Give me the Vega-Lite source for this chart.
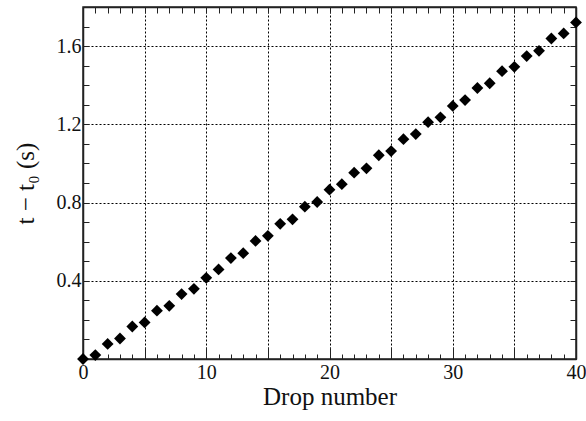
{
  "$schema": "https://vega.github.io/schema/vega-lite/v6.json",
  "width": 493,
  "height": 352,
  "autosize": "none",
  "padding": {"left": 83, "top": 7, "right": 10, "bottom": 62},
  "background": "white",
  "data": {
    "values": [
      {"drop": 0, "t": 0.0},
      {"drop": 1, "t": 0.020},
      {"drop": 2, "t": 0.077},
      {"drop": 3, "t": 0.105},
      {"drop": 4, "t": 0.166},
      {"drop": 5, "t": 0.187},
      {"drop": 6, "t": 0.247},
      {"drop": 7, "t": 0.272},
      {"drop": 8, "t": 0.332},
      {"drop": 9, "t": 0.359},
      {"drop": 10, "t": 0.415},
      {"drop": 11, "t": 0.458},
      {"drop": 12, "t": 0.516},
      {"drop": 13, "t": 0.541},
      {"drop": 14, "t": 0.604},
      {"drop": 15, "t": 0.630},
      {"drop": 16, "t": 0.691},
      {"drop": 17, "t": 0.714},
      {"drop": 18, "t": 0.779},
      {"drop": 19, "t": 0.803},
      {"drop": 20, "t": 0.866},
      {"drop": 21, "t": 0.894},
      {"drop": 22, "t": 0.953},
      {"drop": 23, "t": 0.975},
      {"drop": 24, "t": 1.042},
      {"drop": 25, "t": 1.063},
      {"drop": 26, "t": 1.124},
      {"drop": 27, "t": 1.150},
      {"drop": 28, "t": 1.211},
      {"drop": 29, "t": 1.236},
      {"drop": 30, "t": 1.294},
      {"drop": 31, "t": 1.324},
      {"drop": 32, "t": 1.386},
      {"drop": 33, "t": 1.410},
      {"drop": 34, "t": 1.472},
      {"drop": 35, "t": 1.494},
      {"drop": 36, "t": 1.549},
      {"drop": 37, "t": 1.576},
      {"drop": 38, "t": 1.639},
      {"drop": 39, "t": 1.665},
      {"drop": 40, "t": 1.721}
    ]
  },
  "layer": [
    {
      "mark": {"type": "point", "shape": "diamond", "filled": true, "color": "black", "opacity": 1, "size": 140},
      "encoding": {
        "x": {
          "field": "drop",
          "type": "quantitative",
          "scale": {"domain": [0, 40], "nice": false, "zero": false},
          "axis": {
            "orient": "bottom",
            "title": "Drop number",
            "values": [0,1,2,3,4,5,6,7,8,9,10,11,12,13,14,15,16,17,18,19,20,21,22,23,24,25,26,27,28,29,30,31,32,33,34,35,36,37,38,39,40],
            "labelExpr": "datum.value % 10 === 0 ? datum.label : ''",
            "tickSize": {"condition": {"test": "datum.value % 5 === 0", "value": -12}, "value": -5},
            "grid": true,
            "gridOpacity": {"condition": {"test": "datum.value % 5 === 0 && datum.value > 0 && datum.value < 40", "value": 1}, "value": 0},
            "labelPadding": 15,
            "titlePadding": 2
          }
        },
        "y": {
          "field": "t",
          "type": "quantitative",
          "scale": {"domain": [0, 1.8], "nice": false},
          "axis": {
            "orient": "left",
            "title": "t − t₀ (s)",
            "values": [0,0.1,0.2,0.3,0.4,0.5,0.6,0.7,0.8,0.9,1.0,1.1,1.2,1.3,1.4,1.5,1.6,1.7,1.8],
            "format": ".1f",
            "labelExpr": "indexof(['0.4','0.8','1.2','1.6'], datum.label) >= 0 ? datum.label : ''",
            "tickSize": -6,
            "grid": true,
            "gridOpacity": {"condition": {"test": "round(datum.value * 10) % 4 === 0 && datum.value > 0.05 && datum.value < 1.75", "value": 1}, "value": 0},
            "labelPadding": 8,
            "titlePadding": 18
          }
        }
      }
    },
    {
      "mark": {"type": "point", "opacity": 0},
      "encoding": {
        "x": {
          "field": "drop",
          "type": "quantitative",
          "axis": {
            "orient": "top",
            "title": null,
            "labels": false,
            "grid": false,
            "values": [0,1,2,3,4,5,6,7,8,9,10,11,12,13,14,15,16,17,18,19,20,21,22,23,24,25,26,27,28,29,30,31,32,33,34,35,36,37,38,39,40],
            "tickSize": -6
          }
        },
        "y": {
          "field": "t",
          "type": "quantitative",
          "axis": {
            "orient": "right",
            "title": null,
            "labels": false,
            "grid": false,
            "values": [0,0.1,0.2,0.3,0.4,0.5,0.6,0.7,0.8,0.9,1.0,1.1,1.2,1.3,1.4,1.5,1.6,1.7,1.8],
            "tickSize": -6
          }
        }
      }
    }
  ],
  "resolve": {"axis": {"x": "independent", "y": "independent"}},
  "config": {
    "view": {"stroke": "#222", "strokeWidth": 1.5},
    "axis": {
      "domain": true,
      "domainColor": "#222",
      "domainWidth": 1.5,
      "tickColor": "#222",
      "tickWidth": 1,
      "gridColor": "black",
      "gridDash": [2, 2],
      "gridWidth": 1,
      "labelFont": "Liberation Serif",
      "labelFontSize": 20,
      "labelColor": "#111",
      "titleFont": "Liberation Serif",
      "titleFontSize": 25,
      "titleFontWeight": "normal",
      "titleColor": "#111",
      "labelFlush": false
    }
  }
}
